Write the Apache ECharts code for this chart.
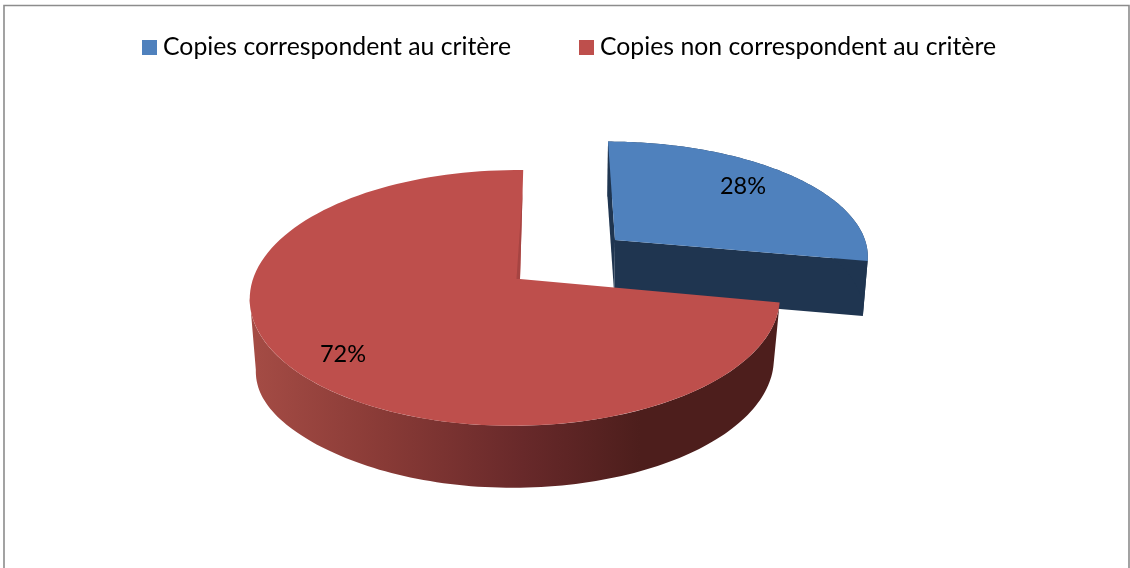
<!DOCTYPE html>
<html><head><meta charset="utf-8">
<style>html,body{margin:0;padding:0;background:#fff}#c{width:1130px;height:568px}</style>
<script src="https://cdn.jsdelivr.net/npm/echarts@6/dist/echarts.min.js"></script>
</head><body><div id="c"></div>
<script>
const categories = ['Copies correspondent au critère', 'Copies non correspondent au critère'];
const shares = [28, 72];
const labels = ['28%', '72%'];

const total = shares.reduce((a, b) => a + b, 0);
const colors = ['#4F81BD', '#BE4F4C'];
const wallBase = ['#1F3550', '#4D1E1C'];
const views = [
  {ax: 615, ay: 240, rx: 250, ry: 110, sx: -7.8, apexDx: 0, k: 0.118, m: 0, depth: 55, edgeExtra: 0, ref: 570, shift: 0.016, strip: 0, label: [743, 186]},
  {ax: 522, ay: 279, rx: 262, ry: 125, sx: 1.4, apexDx: -2, k: 0.148, m: 0.026, depth: 62, edgeExtra: 11, ref: 515, shift: 0.023, strip: 3.5, label: [343, 354]}
];
const WALL_END = 1.455 * Math.PI;
function proj(v, t, r) {
  const U = r * Math.sin(t), V = r * Math.cos(t);
  const w = 1 + v.k * V + v.m * U;
  return [v.ax + (v.rx * U + v.sx * V) / w, v.ay - v.ry * V / w];
}
function drop(v, p, t) {
  const left = t === undefined ? 0 : Math.max(0, -Math.sin(t));
  return [p[0] - (p[0] - v.ref) * v.shift, p[1] + v.depth + v.edgeExtra * Math.pow(left, 6)];
}
function angles(a, b) {
  const out = [], n = 120;
  for (let i = 0; i <= n; i++) out.push(a + (b - a) * i / n);
  return out;
}
function sliceRender(idx) {
  return function () {
    const before = shares.slice(0, idx).reduce((a, b) => a + b, 0);
    const a = before / total * 2 * Math.PI;
    const b = (before + shares[idx]) / total * 2 * Math.PI;
    const v = views[idx];
    const rim = angles(a, b).map(t => proj(v, t, 1));
    const apex = [v.ax + v.apexDx, v.ay];
    const wallAngles = angles(a, Math.min(b, WALL_END));
    const wallTop = wallAngles.map(t => proj(v, t, 1));
    const wallBottom = wallAngles.map(t => drop(v, proj(v, t, 1), t)).reverse();
    const wallOuter = wallTop.concat(wallBottom);
    const outerFill = idx === 1
      ? new echarts.graphic.LinearGradient(250, 0, 640, 0, [
          {offset: 0, color: '#A54C45'},
          {offset: 0.35, color: '#883A36'},
          {offset: 0.7, color: '#68292A'},
          {offset: 1, color: '#4D1E1C'}], true)
      : wallBase[idx];
    const poly = (points, fill) => ({type: 'polygon', shape: {points}, style: {fill}});
    const children = [];
    if (idx === 0) {
      const P0 = rim[0], P1 = rim[rim.length - 1];
      children.push(poly([P0, apex, drop(v, apex), drop(v, P0)], wallBase[0]));
      children.push(poly([P1, apex, drop(v, apex), drop(v, P1)], wallBase[0]));
    }
    children.push(poly(wallOuter, outerFill));
    children.push(poly([apex].concat(rim), colors[idx]));
    if (v.strip) {
      const P0 = rim[rim.length - 1];
      const upper = [P0[0] + (apex[0] - P0[0]) * 0.18, P0[1] + (apex[1] - P0[1]) * 0.18];
      children.push(poly([upper, apex, [apex[0] - v.strip, apex[1]]], '#A64442'));
    }
    children.push({type: 'text', style: {text: labels[idx], x: v.label[0], y: v.label[1], align: 'center', verticalAlign: 'middle',
      font: '23.5px Lato', fill: '#000'}, z2: 10});
    return {type: 'group', children};
  };
}
const chart = echarts.init(document.getElementById('c'), null, {renderer: 'canvas'});
chart.setOption({
  animation: false,
  backgroundColor: '#fff',
  legend: {
    top: 35, left: 142, padding: 0, itemGap: 68, itemWidth: 15, itemHeight: 15, icon: 'rect',
    textStyle: {fontFamily: 'Lato', fontSize: 24.8, color: '#000', padding: [0, 0, 0, 1]},
    data: categories
  },
  graphic: [{type: 'rect', silent: true, shape: {x: 4, y: 5.5, width: 1125, height: 620},
    style: {fill: 'none', stroke: '#8c8c8c', lineWidth: 1.6}}],
  series: categories.map((name, i) => ({
    type: 'custom', name, coordinateSystem: 'none',
    itemStyle: {color: colors[i]},
    data: [shares[i]],
    renderItem: sliceRender(i)
  }))
});
</script></body></html>
